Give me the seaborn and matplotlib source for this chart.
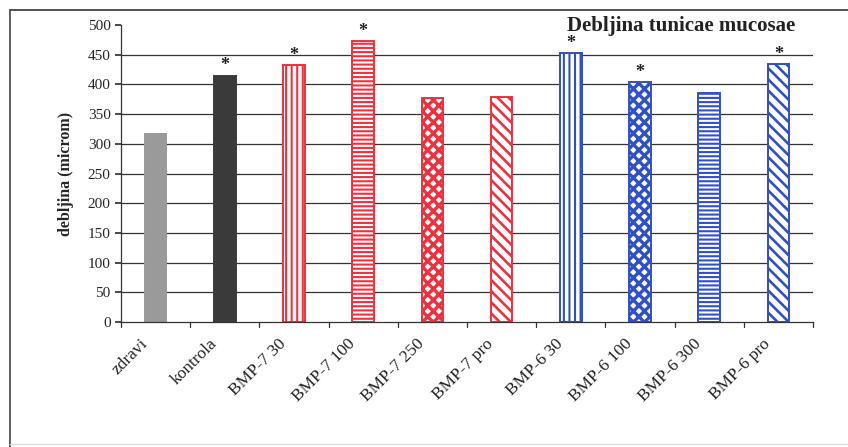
import matplotlib
matplotlib.use("Agg")
import matplotlib.pyplot as plt
import seaborn as sns
import pandas as pd
from matplotlib.lines import Line2D

categories = ["zdravi", "kontrola", "BMP-7 30", "BMP-7 100", "BMP-7 250", "BMP-7 pro",
              "BMP-6 30", "BMP-6 100", "BMP-6 300", "BMP-6 pro"]
values = [317, 415, 432, 473, 377, 378, 453, 404, 386, 434]
significant = [False, True, True, True, False, False, True, True, False, True]
yticks = [0, 50, 100, 150, 200, 250, 300, 350, 400, 450, 500]

sns.set_theme(style="white")
plt.rcParams["font.family"] = ["Liberation Serif", "DejaVu Serif"]
plt.rcParams["hatch.linewidth"] = 1.5

fig = plt.figure(figsize=(8.48, 4.47), dpi=100)
ax = fig.add_axes([0.1427, 0.2796, 0.816, 0.6644])

df = pd.DataFrame({"cat": categories, "val": values})
sns.barplot(data=df, x="cat", y="val", ax=ax, width=0.31, color="gray", saturation=1)

red = "#f0303c"
blue = "#3050c8"
styles = [
    ("#9a9a9a", "#9a9a9a", "", None),
    ("#3a3a3a", "#3a3a3a", "", None),
    ("white", red, "|||", None),
    ("white", red, "----", None),
    ("white", red, "xxx", 2.4),
    ("white", red, "\\\\\\", 1.9),
    ("white", blue, "|||", None),
    ("white", blue, "xxx", 2.4),
    ("white", blue, "----", None),
    ("white", blue, "\\\\\\", 1.9),
]
for p, (fc, ec, h, hlw) in zip(ax.patches, styles):
    p.set_facecolor(fc)
    p.set_edgecolor(ec)
    p.set_hatch(h)
    p.set_linewidth(1.4)
    if hlw is not None:
        if hasattr(p, "set_hatch_linewidth"):
            p.set_hatch_linewidth(hlw)
        else:
            p._hatch_linewidth = hlw

for i, (v, s) in enumerate(zip(values, significant)):
    if s:
        ax.text(i, v + 9, "*", ha="center", va="baseline", fontsize=13, color="#222222",
                fontweight="bold")

ax.set_ylim(0, 500)
ax.set_xlim(-0.5, len(categories) - 0.5)
ax.set_yticks(yticks)
ax.set_yticklabels([str(t) for t in yticks], fontsize=11)
for t in yticks[1:-1]:
    ax.axhline(t, color="#333333", lw=0.9, zorder=0)
ax.set_axisbelow(True)

ax.set_xticks(range(len(categories)))
ax.set_xticklabels([])
ax.tick_params(axis="x", length=0)
for i, c in enumerate(categories):
    ax.annotate(c, xy=(i, 0), xycoords=("data", "axes fraction"),
                xytext=(-11.5, -10), textcoords="offset points",
                rotation=45, ha="right", va="top", rotation_mode="anchor",
                fontsize=12.5, color="#222222")
for b in [i - 0.5 for i in range(len(categories) + 1)]:
    ax.plot([b, b], [0, -8], color="#333333", lw=0.9, clip_on=False)
ax.tick_params(axis="y", direction="out", length=4, color="#333333", left=True)

ax.set_xlabel("")
ax.set_ylabel("debljina (microm)", fontsize=11.5, fontweight="bold", labelpad=10)
for s in ["top", "right"]:
    ax.spines[s].set_visible(False)
for s in ["left", "bottom"]:
    ax.spines[s].set_color("#333333")
    ax.spines[s].set_linewidth(0.9)

ax.text(0.974, 0.998, "Debljina tunicae mucosae", transform=ax.transAxes,
        ha="right", va="center", fontsize=15, fontweight="bold", color="#222222")

# outer frame (top and left visible, bottom faint)
fig.add_artist(Line2D([10 / 848, 1.0], [1 - 10 / 447, 1 - 10 / 447],
                      transform=fig.transFigure, color="#444444", lw=1.3))
fig.add_artist(Line2D([10 / 848, 10 / 848], [0.0, 1 - 10 / 447],
                      transform=fig.transFigure, color="#555555", lw=1.3))
fig.add_artist(Line2D([10 / 848, 1.0], [3 / 447, 3 / 447],
                      transform=fig.transFigure, color="#dddddd", lw=1.0))

fig.savefig("out.png", dpi=100)
